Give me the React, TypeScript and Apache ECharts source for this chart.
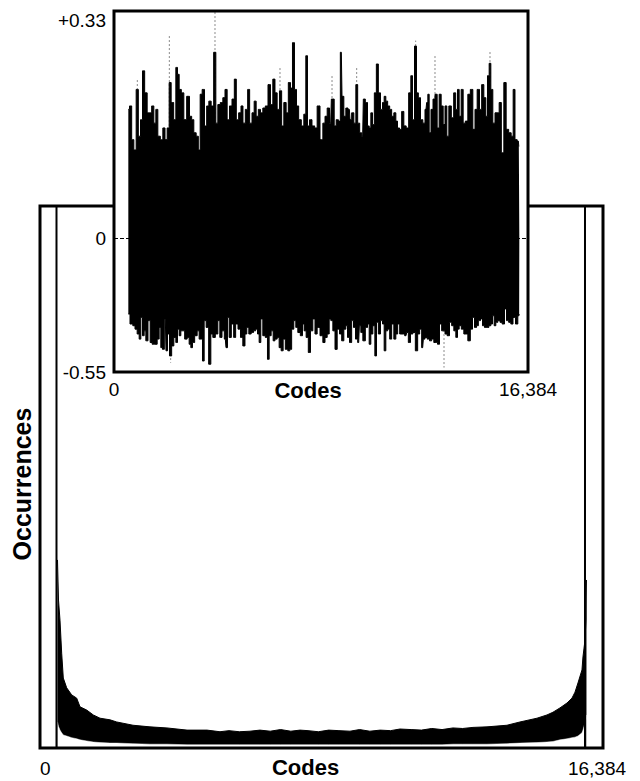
import { useEffect, useRef } from 'react';
import * as echarts from 'echarts';

const FONT = '"Liberation Sans", Arial, Helvetica, sans-serif';

// ---- axis data ----
const CODE_MIN = 0;
const CODE_MAX = 16384;
const DNL_MAX = 0.33;
const DNL_MIN = -0.55;
// the inset's negative half is drawn at a compressed scale (as in the figure)
const NEG_SCALE = 0.354;
const HIST_MAX = 1000;

// ---- main histogram (codes, upper envelope, lower envelope) ----
const histCodes = [509, 538, 582, 631, 678, 777, 922, 1068, 1164, 1359, 1551, 1746, 2037, 2232, 2706, 3201, 3696, 4278, 4860, 5238, 5500, 5800, 6111, 6400, 6700, 7000, 7300, 7566, 7800, 8100, 8400, 8700, 9021, 9300, 9600, 9900, 10200, 10476, 10800, 11100, 11400, 11700, 12018, 12300, 12600, 13008, 13590, 13968, 14463, 14754, 14928, 15132, 15336, 15481, 15569, 15656, 15772, 15801, 15860, 15889, 15903];
const histUpper = [347, 273, 236, 175, 129, 111, 98, 92, 76, 70, 61, 55, 52, 48, 42, 39, 37, 33, 33, 30, 32, 30, 31, 33, 31, 34, 31, 33, 32, 30, 33, 32, 31, 34, 31, 33, 32, 35, 34, 33, 36, 34, 37, 36, 38, 39, 42, 48, 55, 61, 66, 74, 83, 92, 103, 120, 144, 168, 199, 236, 310];
const histLower = [48, 40, 33, 28, 24, 22, 19, 17, 15, 13, 11, 10, 9, 9, 8, 7, 7, 6, 6, 6, 6, 6, 6, 6, 6, 6, 6, 6, 6, 6, 6, 6, 6, 6, 6, 6, 6, 6, 6, 6, 6, 6, 7, 7, 7, 7, 8, 9, 10, 11, 12, 15, 17, 19, 20, 22, 28, 33, 46, 55, 61];
const histEdgeSpikes = [[480, 1000], [15860, 1000]];

// ---- DNL inset: upper and lower envelopes [code, DNL] ----
const dnlUpper = [[567,0.187],[660,0.192],[739,0.143],[831,0.128],[923,0.216],[1003,0.148],[1095,0.172],[1161,0.243],[1266,0.211],[1359,0.182],[1451,0.182],[1530,0.192],[1623,0.167],[1688,0.187],[1781,0.148],[1886,0.143],[1979,0.160],[2058,0.143],[2150,0.160],[2216,0.226],[2308,0.197],[2414,0.172],[2480,0.248],[2546,0.238],[2612,0.216],[2717,0.211],[2810,0.172],[2941,0.206],[3034,0.177],[3113,0.172],[3205,0.153],[3298,0.148],[3377,0.128],[3443,0.209],[3535,0.216],[3627,0.163],[3707,0.192],[3799,0.199],[3891,0.192],[3997,0.270],[4063,0.167],[4155,0.194],[4261,0.197],[4353,0.204],[4432,0.216],[4524,0.172],[4617,0.192],[4722,0.202],[4801,0.231],[4880,0.172],[4986,0.182],[5065,0.192],[5144,0.167],[5250,0.187],[5329,0.216],[5408,0.167],[5514,0.182],[5580,0.199],[5672,0.177],[5751,0.187],[5843,0.182],[5936,0.189],[6041,0.192],[6147,0.223],[6239,0.194],[6331,0.231],[6410,0.211],[6503,0.187],[6595,0.214],[6674,0.163],[6767,0.197],[6859,0.182],[6938,0.226],[7030,0.218],[7096,0.284],[7189,0.216],[7255,0.192],[7360,0.172],[7466,0.163],[7558,0.180],[7624,0.265],[7690,0.163],[7782,0.172],[7888,0.163],[7993,0.160],[8086,0.192],[8219,0.143],[8311,0.167],[8390,0.177],[8483,0.189],[8575,0.167],[8628,0.202],[8681,0.202],[8747,0.163],[8839,0.172],[8918,0.170],[8997,0.270],[9050,0.206],[9142,0.177],[9208,0.189],[9314,0.187],[9366,0.172],[9445,0.182],[9538,0.167],[9604,0.223],[9683,0.167],[9762,0.153],[9841,0.148],[9894,0.202],[9999,0.197],[10066,0.163],[10132,0.160],[10197,0.182],[10263,0.165],[10343,0.211],[10422,0.253],[10501,0.211],[10593,0.187],[10659,0.197],[10725,0.206],[10791,0.199],[10870,0.192],[10949,0.187],[11028,0.177],[11121,0.182],[11187,0.170],[11253,0.160],[11345,0.158],[11424,0.184],[11516,0.163],[11609,0.160],[11714,0.211],[11780,0.236],[11846,0.172],[11939,0.279],[12004,0.211],[12084,0.204],[12176,0.172],[12268,0.167],[12347,0.187],[12400,0.197],[12440,0.209],[12506,0.153],[12585,0.187],[12664,0.202],[12743,0.209],[12835,0.160],[12901,0.209],[12994,0.192],[13060,0.165],[13139,0.192],[13205,0.148],[13297,0.192],[13403,0.175],[13482,0.211],[13561,0.187],[13627,0.216],[13693,0.177],[13785,0.216],[13851,0.167],[13957,0.170],[14049,0.209],[14155,0.216],[14247,0.158],[14326,0.187],[14418,0.216],[14511,0.187],[14590,0.223],[14682,0.204],[14748,0.177],[14814,0.236],[14880,0.254],[14946,0.216],[15038,0.167],[15117,0.182],[15210,0.182],[15276,0.197],[15381,0.124],[15474,0.226],[15566,0.158],[15672,0.153],[15764,0.148],[15830,0.216],[15909,0.143],[16001,0.141],[16041,0.133]];

const dnlLower = [[567,-0.312],[699,-0.353],[791,-0.360],[871,-0.374],[963,-0.394],[1029,-0.415],[1095,-0.326],[1161,-0.401],[1227,-0.381],[1293,-0.422],[1398,-0.339],[1464,-0.429],[1557,-0.436],[1662,-0.436],[1754,-0.415],[1820,-0.367],[1886,-0.450],[1952,-0.457],[2031,-0.332],[2084,-0.463],[2150,-0.394],[2242,-0.484],[2322,-0.443],[2414,-0.408],[2480,-0.429],[2546,-0.374],[2612,-0.401],[2678,-0.381],[2744,-0.381],[2849,-0.415],[2941,-0.408],[3007,-0.436],[3073,-0.450],[3139,-0.429],[3245,-0.401],[3337,-0.381],[3403,-0.415],[3469,-0.415],[3535,-0.505],[3601,-0.339],[3693,-0.367],[3799,-0.518],[3865,-0.394],[3957,-0.408],[4063,-0.394],[4155,-0.339],[4221,-0.408],[4326,-0.381],[4406,-0.415],[4458,-0.450],[4524,-0.326],[4590,-0.408],[4696,-0.353],[4775,-0.408],[4854,-0.353],[4960,-0.374],[5052,-0.408],[5144,-0.443],[5223,-0.394],[5289,-0.367],[5382,-0.394],[5474,-0.388],[5566,-0.381],[5646,-0.374],[5712,-0.394],[5777,-0.429],[5843,-0.332],[5936,-0.401],[6041,-0.408],[6107,-0.498],[6173,-0.401],[6265,-0.381],[6331,-0.422],[6410,-0.415],[6503,-0.408],[6569,-0.450],[6661,-0.463],[6727,-0.415],[6833,-0.457],[6925,-0.463],[6991,-0.457],[7070,-0.374],[7162,-0.339],[7228,-0.367],[7321,-0.388],[7426,-0.401],[7492,-0.353],[7558,-0.381],[7650,-0.408],[7729,-0.470],[7822,-0.381],[7914,-0.332],[7993,-0.394],[8086,-0.367],[8219,-0.401],[8311,-0.429],[8390,-0.408],[8483,-0.394],[8549,-0.332],[8615,-0.339],[8707,-0.381],[8786,-0.457],[8879,-0.374],[8971,-0.394],[9050,-0.422],[9142,-0.374],[9208,-0.360],[9274,-0.408],[9366,-0.429],[9445,-0.339],[9512,-0.367],[9604,-0.415],[9683,-0.429],[9736,-0.360],[9802,-0.388],[9894,-0.422],[9999,-0.367],[10066,-0.353],[10132,-0.436],[10197,-0.394],[10290,-0.360],[10356,-0.484],[10422,-0.346],[10501,-0.394],[10593,-0.339],[10659,-0.353],[10725,-0.463],[10791,-0.381],[10870,-0.374],[10949,-0.415],[11028,-0.353],[11121,-0.415],[11187,-0.394],[11266,-0.353],[11345,-0.394],[11451,-0.394],[11556,-0.401],[11609,-0.388],[11688,-0.429],[11780,-0.394],[11873,-0.388],[11978,-0.463],[12057,-0.394],[12136,-0.374],[12216,-0.450],[12268,-0.415],[12347,-0.408],[12440,-0.415],[12532,-0.422],[12611,-0.415],[12703,-0.429],[12770,-0.429],[12835,-0.436],[12928,-0.353],[13007,-0.381],[13060,-0.381],[13139,-0.394],[13231,-0.401],[13324,-0.346],[13403,-0.360],[13495,-0.381],[13561,-0.408],[13627,-0.374],[13693,-0.360],[13798,-0.374],[13891,-0.394],[13957,-0.394],[14049,-0.422],[14155,-0.374],[14221,-0.326],[14313,-0.367],[14379,-0.360],[14458,-0.339],[14550,-0.332],[14616,-0.360],[14709,-0.367],[14788,-0.367],[14880,-0.360],[14946,-0.353],[15012,-0.319],[15078,-0.360],[15144,-0.346],[15236,-0.339],[15315,-0.346],[15408,-0.353],[15500,-0.291],[15566,-0.339],[15672,-0.346],[15738,-0.353],[15843,-0.326],[15935,-0.353],[16027,-0.319],[16041,-0.312]];

// faint (grey, broken) single-code spikes
const dnlFaintSpikes = [[923,0.231],[2190,0.295],[3997,0.33],[6569,0.248],[8628,0.238],[9604,0.250],[11939,0.287],[12703,0.265],[14880,0.273],[2242,-0.512],[13060,-0.532]];

const toDisplay = (v: number) => (v < 0 ? v * NEG_SCALE : v);
const DISPLAY_MIN = DNL_MIN * NEG_SCALE;

const codeLabel = (v: number) => Math.round(v).toLocaleString('en-US');
const dnlLabel = (v: number) => {
  if (Math.abs(v) < 1e-9) return '0';
  if (v > 0) return '+' + v.toFixed(2);
  return (v / NEG_SCALE).toFixed(2);
};

const lineRender = (color: string, width: number, dash: number[] | null) => (params: any, api: any) => {
  const x = api.value(0);
  const top = api.value(1);
  const p0 = api.coord([x, 0]);
  const p1 = api.coord([x, top]);
  return {
    type: 'line',
    shape: { x1: p0[0], y1: p0[1], x2: p1[0], y2: p1[1] },
    style: { stroke: color, lineWidth: width, lineDash: dash || undefined },
  };
};

// ---- layout ----
const MAIN = { left: 40, top: 206, width: 563, height: 542 };
const INSET = { left: 114, top: 11, width: 414, height: 361 };
const FRAME_W = 3;

const labelStyle = { fontFamily: FONT, fontSize: 19, color: '#000' };
const titleStyle = { fontFamily: FONT, fontSize: 22, fontWeight: 'bold' as const, color: '#000' };

function buildOption() {
  const mainRight = MAIN.left + MAIN.width;
  const mainBottom = MAIN.top + MAIN.height;
  const insetRight = INSET.left + INSET.width;
  return {
    animation: false,
    backgroundColor: '#fff',
    textStyle: { fontFamily: FONT },
    grid: [
      { ...MAIN, show: false, z: 0, containLabel: false, outerBoundsMode: 'none' },
      { ...INSET, show: true, backgroundColor: '#fff', borderWidth: 0, z: 1, containLabel: false, outerBoundsMode: 'none' },
    ],
    graphic: [
      {
        type: 'polyline', z: 100, silent: true,
        shape: { points: [[INSET.left, MAIN.top], [MAIN.left, MAIN.top], [MAIN.left, mainBottom], [mainRight, mainBottom], [mainRight, MAIN.top], [insetRight, MAIN.top]] },
        style: { stroke: '#000', lineWidth: FRAME_W, fill: 'none', lineJoin: 'miter' },
      },
      {
        type: 'rect', z: 100, silent: true,
        shape: { x: INSET.left, y: INSET.top, width: INSET.width, height: INSET.height },
        style: { stroke: '#000', lineWidth: FRAME_W, fill: 'none' },
      },
    ],
    xAxis: [
      {
        gridIndex: 0, type: 'value', min: CODE_MIN, max: CODE_MAX, interval: CODE_MAX,
        axisLine: { show: false }, axisTick: { show: false }, splitLine: { show: false },
        axisLabel: { ...labelStyle, margin: 11, formatter: codeLabel, alignMinLabel: 'left', padding: [0, 12, 0, 0] },
        name: 'Codes', nameLocation: 'middle', nameGap: 8, nameMoveOverlap: false,
        nameTextStyle: { ...titleStyle, padding: [0, 32, 0, 0] },
      },
      {
        gridIndex: 1, type: 'value', min: CODE_MIN, max: CODE_MAX, interval: CODE_MAX,
        axisLine: { show: false }, axisTick: { show: false }, splitLine: { show: false },
        axisLabel: { ...labelStyle, margin: 8, formatter: codeLabel },
        name: 'Codes', nameLocation: 'middle', nameGap: 7, nameMoveOverlap: false,
        nameTextStyle: { ...titleStyle, padding: [0, 26, 0, 0] },
        z: 3,
      },
    ],
    yAxis: [
      {
        gridIndex: 0, type: 'value', min: 0, max: HIST_MAX,
        axisLine: { show: false }, axisTick: { show: false }, splitLine: { show: false }, axisLabel: { show: false },
        name: 'Occurrences', nameLocation: 'middle', nameRotate: 90, nameGap: 6, nameMoveOverlap: false,
        nameTextStyle: { ...titleStyle, fontSize: 25, padding: [0, 14, 0, 0] },
      },
      {
        gridIndex: 1, type: 'value', min: DISPLAY_MIN, max: DNL_MAX,
        axisLine: { show: false }, axisTick: { show: false }, splitLine: { show: false },
        axisLabel: {
          ...labelStyle, margin: 8, formatter: dnlLabel,
          customValues: [DISPLAY_MIN, 0, DNL_MAX],
          verticalAlignMaxLabel: 'top',
        },
        z: 3,
      },
    ],
    series: [
      // histogram: black fill up to the upper envelope ...
      {
        type: 'line', xAxisIndex: 0, yAxisIndex: 0, silent: true, z: 2,
        data: histCodes.map((c, i) => [c, histUpper[i]]),
        symbol: 'none', lineStyle: { color: '#000', width: 1 },
        areaStyle: { color: '#000', opacity: 1 },
      },
      // ... and white below the lower envelope, leaving the band
      {
        type: 'line', xAxisIndex: 0, yAxisIndex: 0, silent: true, z: 3,
        data: histCodes.map((c, i) => [c, histLower[i]]),
        symbol: 'none', lineStyle: { color: '#fff', width: 0.5 },
        areaStyle: { color: '#fff', opacity: 1 },
      },
      {
        type: 'custom', xAxisIndex: 0, yAxisIndex: 0, silent: true, z: 4,
        data: histEdgeSpikes, renderItem: lineRender('#000', 2, null),
      },
      {
        type: 'custom', xAxisIndex: 1, yAxisIndex: 1, silent: true, z: 2,
        data: dnlFaintSpikes.map(([c, v]) => [c, toDisplay(v)]),
        renderItem: lineRender('#8a8a8a', 1, [2, 2]),
      },
      {
        type: 'line', xAxisIndex: 1, yAxisIndex: 1, silent: true, step: 'middle', z: 3,
        data: dnlUpper.map(([c, v]) => [c, toDisplay(v)]),
        symbol: 'none', lineStyle: { color: '#000', width: 1 },
        areaStyle: { color: '#000', opacity: 1 },
        markLine: {
          silent: true, symbol: ['none', 'none'], label: { show: false },
          lineStyle: { color: '#000', type: 'dashed', width: 1 },
          data: [{ yAxis: 0 }],
        },
      },
      {
        type: 'line', xAxisIndex: 1, yAxisIndex: 1, silent: true, step: 'middle', z: 3,
        data: dnlLower.map(([c, v]) => [c, toDisplay(v)]),
        symbol: 'none', lineStyle: { color: '#000', width: 1 },
        areaStyle: { color: '#000', opacity: 1 },
      },
    ],
  };
}

export default function App() {
  const ref = useRef<HTMLDivElement>(null);
  useEffect(() => {
    document.body.style.margin = '0';
    const chart = echarts.init(ref.current!, null, { renderer: 'svg' });
    chart.setOption(buildOption() as any);
    return () => chart.dispose();
  }, []);
  return <div ref={ref} style={{ width: 640, height: 781 }} />;
}
